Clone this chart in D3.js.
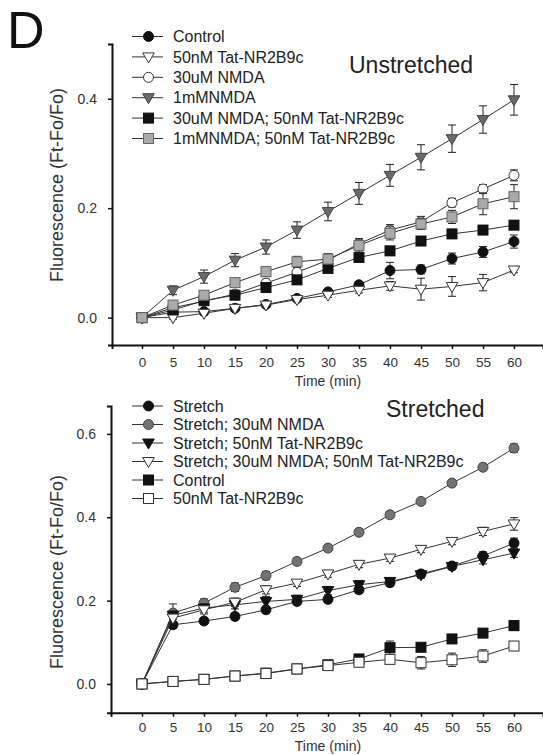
<!DOCTYPE html>
<html>
  <head>
    <script type="text/javascript" src="https://d3js.org/d3.v7.min.js"></script>
    <style>
      body { margin: 0; background: #fff; }
      text { font-family: "Liberation Sans", Arial, sans-serif; }
    </style>
  </head>
  <body>
    <svg id="svg1" width="543" height="755"></svg>

    <script>
      // time points (min)
      const timeMin = [0, 5, 10, 15, 20, 25, 30, 35, 40, 45, 50, 55, 60];
      const xTicks = [0, 5, 10, 15, 20, 25, 30, 35, 40, 45, 50, 55, 60];
      const topYTicks = [0, 0.2, 0.4];
      const bottomYTicks = [0, 0.2, 0.4, 0.6];

      // Unstretched panel
      const uControl = [0, 0.010, 0.011, 0.017, 0.024, 0.035, 0.047, 0.060, 0.086, 0.088, 0.108, 0.120, 0.139];
      const uControlErr = [0.002, 0.003, 0.003, 0.003, 0.003, 0.004, 0.004, 0.005, 0.015, 0.008, 0.010, 0.010, 0.012];
      const uTat = [0, 0.000, 0.008, 0.017, 0.023, 0.033, 0.041, 0.050, 0.058, 0.052, 0.057, 0.064, 0.087];
      const uTatErr = [0.002, 0.003, 0.003, 0.003, 0.003, 0.003, 0.004, 0.005, 0.008, 0.020, 0.018, 0.015, 0.005];
      const uNmda30 = [0, 0.018, 0.030, 0.043, 0.063, 0.083, 0.105, 0.135, 0.160, 0.175, 0.210, 0.235, 0.260];
      const uNmda30Err = [0.002, 0.004, 0.005, 0.006, 0.007, 0.008, 0.008, 0.009, 0.010, 0.010, 0.008, 0.008, 0.010];
      const uNmda1m = [0, 0.050, 0.075, 0.105, 0.129, 0.160, 0.194, 0.227, 0.260, 0.293, 0.327, 0.362, 0.398];
      const uNmda1mErr = [0.003, 0.008, 0.012, 0.012, 0.013, 0.015, 0.017, 0.020, 0.020, 0.023, 0.025, 0.025, 0.028];
      const uNmda30Tat = [0, 0.014, 0.031, 0.041, 0.055, 0.069, 0.090, 0.110, 0.122, 0.140, 0.153, 0.160, 0.169];
      const uNmda30TatErr = [0.002, 0.004, 0.005, 0.005, 0.006, 0.006, 0.007, 0.008, 0.008, 0.008, 0.008, 0.008, 0.008];
      const uNmda1mTat = [0, 0.023, 0.041, 0.064, 0.084, 0.102, 0.107, 0.132, 0.154, 0.171, 0.184, 0.208, 0.221];
      const uNmda1mTatErr = [0.002, 0.005, 0.006, 0.007, 0.009, 0.010, 0.010, 0.012, 0.012, 0.010, 0.012, 0.020, 0.022];

      // Stretched panel
      const sStretch = [0, 0.142, 0.151, 0.162, 0.178, 0.198, 0.203, 0.226, 0.243, 0.264, 0.283, 0.307, 0.338];
      const sStretchErr = [0.004, 0.008, 0.008, 0.008, 0.008, 0.008, 0.008, 0.008, 0.008, 0.008, 0.008, 0.010, 0.012];
      const sStretchNmda = [0, 0.170, 0.194, 0.232, 0.260, 0.294, 0.326, 0.364, 0.406, 0.438, 0.482, 0.520, 0.566];
      const sStretchNmdaErr = [0.004, 0.022, 0.010, 0.010, 0.010, 0.008, 0.008, 0.008, 0.007, 0.007, 0.007, 0.008, 0.010];
      const sStretchTat = [0, 0.165, 0.182, 0.190, 0.198, 0.203, 0.224, 0.238, 0.246, 0.262, 0.282, 0.298, 0.314];
      const sStretchTatErr = [0.004, 0.010, 0.010, 0.010, 0.012, 0.010, 0.010, 0.010, 0.008, 0.008, 0.008, 0.010, 0.010];
      const sStretchNmdaTat = [0, 0.158, 0.178, 0.196, 0.226, 0.242, 0.264, 0.287, 0.302, 0.323, 0.342, 0.366, 0.384];
      const sStretchNmdaTatErr = [0.004, 0.010, 0.010, 0.010, 0.010, 0.008, 0.008, 0.008, 0.008, 0.008, 0.008, 0.010, 0.015];
      const sControl = [0, 0.006, 0.011, 0.019, 0.026, 0.036, 0.046, 0.060, 0.087, 0.088, 0.108, 0.122, 0.140];
      const sControlErr = [0.003, 0.003, 0.003, 0.003, 0.003, 0.003, 0.004, 0.005, 0.016, 0.008, 0.008, 0.009, 0.012];
      const sTat = [0, 0.006, 0.011, 0.019, 0.025, 0.036, 0.044, 0.052, 0.059, 0.051, 0.058, 0.067, 0.091];
      const sTatErr = [0.003, 0.003, 0.003, 0.003, 0.003, 0.003, 0.004, 0.005, 0.010, 0.015, 0.016, 0.015, 0.005];

      var svg = d3.select("#svg1");

      // marker shapes
      function drawMarker(g, shape, fill, stroke) {
        if (shape == "circle") {
          g.append("circle").attr("r", 5).attr("fill", fill).attr("stroke", stroke).attr("stroke-width", 1);
        } else if (shape == "square") {
          g.append("rect").attr("x", -5).attr("y", -5).attr("width", 10).attr("height", 10)
            .attr("fill", fill).attr("stroke", stroke).attr("stroke-width", 1);
        } else {
          g.append("path").attr("d", "M-5.8,-4 L5.8,-4 L0,6 Z")
            .attr("fill", fill).attr("stroke", stroke).attr("stroke-width", 1);
        }
      }

      function drawPanel(p) {
        var x = d3.scaleLinear().domain(p.xDomain).range([p.left, 543]);
        var y = d3.scaleLinear().domain(p.yDomain).range([p.bottom, p.top]);

        // axes
        var yAxis = svg.append("g")
          .attr("transform", "translate(" + p.left + ",0)")
          .call(d3.axisLeft(y).tickValues(p.yTicks).tickFormat(d3.format(".1f"))
            .tickSizeOuter(0).tickSize(4).tickPadding(11));
        var xAxis = svg.append("g")
          .attr("transform", "translate(0," + p.bottom + ")")
          .call(d3.axisBottom(x).tickValues(xTicks).tickSizeOuter(0).tickSize(4).tickPadding(p.xPad));
        [xAxis, yAxis].forEach(function (a) {
          a.select(".domain").attr("stroke", "#111").attr("stroke-width", 2);
          a.selectAll(".tick line").attr("stroke", "#111").attr("stroke-width", 1.5);
          a.selectAll("text").attr("fill", "#333").style("font-family", "Liberation Sans, Arial, sans-serif");
        });
        yAxis.selectAll("text").attr("font-size", 14);
        xAxis.selectAll("text").attr("font-size", 13.5);

        // series
        var line = d3.line().x(function (d) { return x(d.t); }).y(function (d) { return y(d.v); });
        p.series.forEach(function (s) {
          var pts = timeMin.map(function (t, i) { return { t: t, v: s.values[i], e: s.err[i] }; });
          var g = svg.append("g");
          g.append("path").datum(pts).attr("d", line)
            .attr("fill", "none").attr("stroke", "#333").attr("stroke-width", 1);
          var eb = g.selectAll(".eb").data(pts).enter().append("g");
          eb.append("line")
            .attr("x1", function (d) { return x(d.t); }).attr("x2", function (d) { return x(d.t); })
            .attr("y1", function (d) { return y(d.v - d.e); }).attr("y2", function (d) { return y(d.v + d.e); });
          eb.append("line")
            .attr("x1", function (d) { return x(d.t) - 4; }).attr("x2", function (d) { return x(d.t) + 4; })
            .attr("y1", function (d) { return y(d.v + d.e); }).attr("y2", function (d) { return y(d.v + d.e); });
          eb.append("line")
            .attr("x1", function (d) { return x(d.t) - 4; }).attr("x2", function (d) { return x(d.t) + 4; })
            .attr("y1", function (d) { return y(d.v - d.e); }).attr("y2", function (d) { return y(d.v - d.e); });
          eb.selectAll("line").attr("stroke", "#222").attr("stroke-width", 1);
          pts.forEach(function (d) {
            var m = g.append("g").attr("transform", "translate(" + x(d.t) + "," + y(d.v) + ")");
            drawMarker(m, s.shape, s.fill, s.stroke);
          });
        });

        // legend
        var legend = svg.append("g");
        p.series.forEach(function (s, i) {
          var ly = p.legendY + i * p.legendStep;
          legend.append("line").attr("x1", 132).attr("x2", 163).attr("y1", ly).attr("y2", ly)
            .attr("stroke", "#333").attr("stroke-width", 1);
          var m = legend.append("g").attr("transform", "translate(148.5," + ly + ")");
          drawMarker(m, s.shape, s.fill, s.stroke);
          legend.append("text").attr("x", 173).attr("y", ly).attr("dy", "0.35em")
            .attr("font-size", 16).attr("fill", "#222").text(s.name);
        });

        // titles
        svg.append("text").attr("x", p.titleX).attr("y", p.titleY)
          .attr("font-size", 23).attr("fill", "#222").text(p.title);
        svg.append("text").attr("x", 328).attr("y", p.xLabelY).attr("text-anchor", "middle")
          .attr("font-size", 14).attr("fill", "#333").text("Time (min)");
        svg.append("text").attr("transform", "translate(63," + p.yLabelY + ") rotate(-90)")
          .attr("text-anchor", "middle").attr("font-size", 18).attr("fill", "#333")
          .text("Fluorescence (Ft-Fo/Fo)");
      }

      drawPanel({
        left: 112, top: 44, bottom: 345,
        xDomain: [-4.84, 64.68], yDomain: [-0.05, 0.5], yTicks: topYTicks, xPad: 8,
        title: "Unstretched", titleX: 349, titleY: 73, xLabelY: 386, yLabelY: 185,
        legendY: 36.5, legendStep: 20.4,
        series: [
          { name: "Control", values: uControl, err: uControlErr, shape: "circle", fill: "#111", stroke: "#111" },
          { name: "50nM Tat-NR2B9c", values: uTat, err: uTatErr, shape: "tri", fill: "#fff", stroke: "#333" },
          { name: "30uM NMDA", values: uNmda30, err: uNmda30Err, shape: "circle", fill: "#fff", stroke: "#333" },
          { name: "1mMNMDA", values: uNmda1m, err: uNmda1mErr, shape: "tri", fill: "#6a6a6a", stroke: "#444" },
          { name: "30uM NMDA; 50nM Tat-NR2B9c", values: uNmda30Tat, err: uNmda30TatErr, shape: "square", fill: "#111", stroke: "#111" },
          { name: "1mMNMDA; 50nM Tat-NR2B9c", values: uNmda1mTat, err: uNmda1mTatErr, shape: "square", fill: "#aaa", stroke: "#666" }
        ]
      });

      drawPanel({
        left: 111, top: 406, bottom: 712.7,
        xDomain: [-5, 64.68], yDomain: [-0.069, 0.667], yTicks: bottomYTicks, xPad: 6,
        title: "Stretched", titleX: 386, titleY: 417, xLabelY: 751, yLabelY: 572,
        legendY: 406, legendStep: 18.5,
        series: [
          { name: "Stretch", values: sStretch, err: sStretchErr, shape: "circle", fill: "#111", stroke: "#111" },
          { name: "Stretch; 30uM NMDA", values: sStretchNmda, err: sStretchNmdaErr, shape: "circle", fill: "#737373", stroke: "#444" },
          { name: "Stretch; 50nM Tat-NR2B9c", values: sStretchTat, err: sStretchTatErr, shape: "tri", fill: "#111", stroke: "#111" },
          { name: "Stretch; 30uM NMDA; 50nM Tat-NR2B9c", values: sStretchNmdaTat, err: sStretchNmdaTatErr, shape: "tri", fill: "#fff", stroke: "#333" },
          { name: "Control", values: sControl, err: sControlErr, shape: "square", fill: "#111", stroke: "#111" },
          { name: "50nM Tat-NR2B9c", values: sTat, err: sTatErr, shape: "square", fill: "#fff", stroke: "#333" }
        ]
      });

      // panel letter
      svg.append("text").attr("x", 7).attr("y", 48).attr("font-size", 52).attr("fill", "#111").text("D");
    </script>
  </body>
</html>
